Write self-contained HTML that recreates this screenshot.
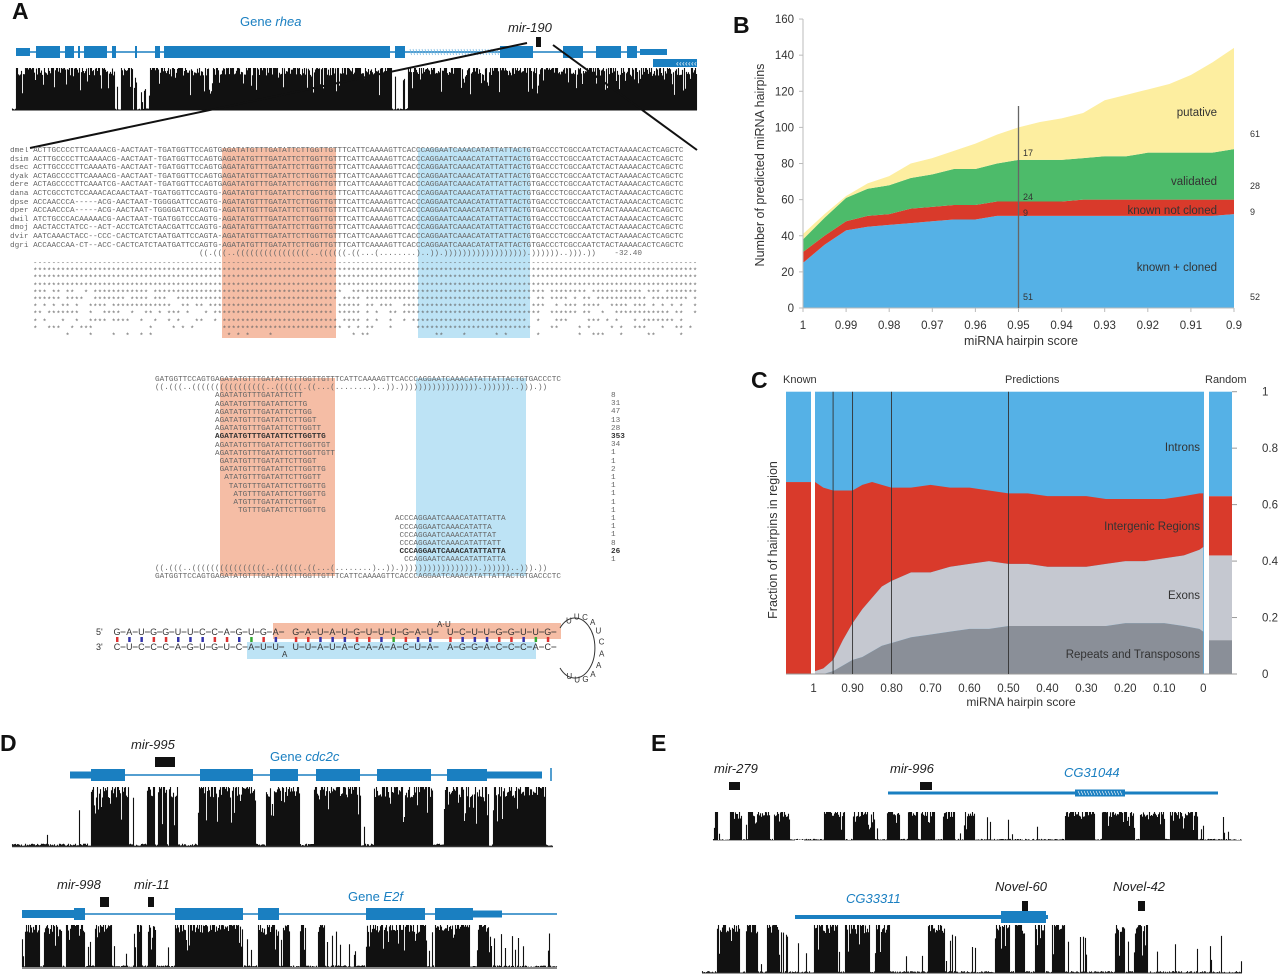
<!DOCTYPE html>
<html><head><meta charset="utf-8">
<style>
body{margin:0;background:#fff;}
#root{position:relative;width:1280px;height:974px;overflow:hidden;background:#fff;font-family:"Liberation Sans",sans-serif;}
.abs{position:absolute;}
.mono{font-family:"Liberation Mono",monospace;font-size:7.7px;line-height:8.6px;color:#666;white-space:pre;}
.plab{font-weight:bold;font-size:23px;color:#111;}
.blue{color:#1a7fc1;}
.it{font-style:italic;}
svg text{font-family:"Liberation Sans",sans-serif;}
</style></head><body>
<div id="root">
<svg id="bg" class="abs" style="left:0;top:0" width="1280" height="974"></svg>

<div class="abs plab" style="left:12px;top:-2px">A</div>
<div class="abs blue" style="left:240px;top:14px;font-size:13px">Gene <span class="it">rhea</span></div>
<div class="abs it" style="left:508px;top:20px;font-size:13px;color:#222">mir-190</div>
<div id="aln" class="abs mono" style="left:10px;top:147px;width:690px;overflow:hidden"></div>
<div id="stars" class="abs mono" style="left:33px;top:262px;width:664px;overflow:hidden;line-height:7.2px"></div>
<div id="reads" class="abs mono" style="left:155px;top:376px;line-height:8.2px"></div>
<div id="counts" class="abs mono" style="left:611px;top:392px;line-height:8.2px"></div>

<div class="abs plab" style="left:733px;top:12px">B</div>
<div class="abs plab" style="left:751px;top:367px">C</div>

<div class="abs plab" style="left:0px;top:730px">D</div>
<div class="abs it" style="left:131px;top:737px;font-size:13px;color:#222">mir-995</div>
<div class="abs blue" style="left:270px;top:749px;font-size:13px">Gene <span class="it">cdc2c</span></div>
<div class="abs it" style="left:57px;top:877px;font-size:13px;color:#222">mir-998</div>
<div class="abs it" style="left:134px;top:877px;font-size:13px;color:#222">mir-11</div>
<div class="abs blue" style="left:348px;top:889px;font-size:13px">Gene <span class="it">E2f</span></div>

<div class="abs plab" style="left:651px;top:730px">E</div>
<div class="abs it" style="left:714px;top:761px;font-size:13px;color:#222">mir-279</div>
<div class="abs it" style="left:890px;top:761px;font-size:13px;color:#222">mir-996</div>
<div class="abs blue it" style="left:1064px;top:765px;font-size:13px">CG31044</div>
<div class="abs blue it" style="left:846px;top:891px;font-size:13px">CG33311</div>
<div class="abs it" style="left:995px;top:879px;font-size:13px;color:#222">Novel-60</div>
<div class="abs it" style="left:1113px;top:879px;font-size:13px;color:#222">Novel-42</div>
</div>

<script>
// ---------- Panel B data ----------
const bScores=[1,0.995,0.99,0.985,0.98,0.975,0.97,0.965,0.96,0.955,0.95,0.945,0.94,0.935,0.93,0.925,0.92,0.915,0.91,0.905,0.9];
const bKnownCloned=[25,35,43,45,46,47,48,49,49,51,51,51,51,51,51,51,51,51,51,51,52];
const bKnownNotCloned=[6,5,5,6,6,8,8,8,8,8,8,8,8,9,9,9,9,9,9,9,8];
const bValidated=[7,10,13,15,16,17,18,20,20,21,23,23,23,23,24,24,26,26,26,26,28];
const bPutative=[3,2,1,3,5,8,9,10,14,16,18,21,23,25,31,34,35,38,43,50,56];
const bYTicks=[0,20,40,60,80,100,120,140,160];
const bXTicks=[1,0.99,0.98,0.97,0.96,0.95,0.94,0.93,0.92,0.91,0.9];

// ---------- Panel C data ----------
const cScores=[1,0.975,0.95,0.925,0.9,0.875,0.85,0.825,0.8,0.75,0.7,0.65,0.6,0.55,0.5,0.45,0.4,0.35,0.3,0.25,0.2,0.15,0.1,0.05,0.01,0];
const cRepeats=[0,0,0.01,0.03,0.05,0.06,0.08,0.1,0.11,0.13,0.14,0.15,0.16,0.16,0.17,0.17,0.17,0.17,0.17,0.17,0.18,0.18,0.18,0.17,0.16,0.15];
const cExons=[0.01,0.02,0.04,0.09,0.13,0.17,0.19,0.21,0.22,0.23,0.22,0.23,0.23,0.24,0.22,0.22,0.21,0.21,0.21,0.22,0.22,0.22,0.23,0.25,0.28,0.30];
const cIntergenic=[0.67,0.64,0.6,0.53,0.47,0.44,0.41,0.36,0.33,0.3,0.31,0.28,0.27,0.25,0.25,0.25,0.25,0.25,0.25,0.23,0.22,0.22,0.21,0.21,0.2,0.19];
const cKnown=[0,0,0.68];
const cRandom=[0.12,0.30,0.21];
const cXTicks=[1,0.9,0.8,0.7,0.6,0.5,0.4,0.3,0.2,0.1,0];
const cXTickLabels=["1","0.90","0.80","0.70","0.60","0.50","0.40","0.30","0.20","0.10","0"];
const cYTicks=[0,0.2,0.4,0.6,0.8,1];
const cDividers=[0.95,0.9,0.8,0.5];

const NS="http://www.w3.org/2000/svg";
const svg=document.getElementById('bg');
function mk(tag,attrs,parent){const e=document.createElementNS(NS,tag);for(const k in attrs)e.setAttribute(k,attrs[k]);(parent||svg).appendChild(e);return e;}
function txt(x,y,s,attrs,parent){const t=mk('text',Object.assign({x:x,y:y},attrs),parent);t.textContent=s;return t;}
function hash(i,s){const x=Math.sin(i*12.9898+s*78.233)*43758.5453;return x-Math.floor(x);}

function track(name,x0,x1,yT,yB,blocks,seed,sparse){
  let d='';
  for(let x=x0;x<x1;x++){
    const inb=blocks.some(b=>x>=b[0]&&x<b[1]);
    const r=hash(x,seed);let h;
    if(inb){h=r<0.13?0.35+0.5*hash(x,seed+1):(r<0.5?1:0.82+0.18*hash(x,seed+2));}
    else{h=r<sparse?0.15+0.7*hash(x,seed+3):0.04*hash(x,seed+4);}
    d+='M'+(x+0.5)+' '+yB+'v'+(-(h*(yB-yT))).toFixed(1);
  }
  const p=mk('path',{d:d,stroke:'#111','stroke-width':1.1,fill:'none'});
  
  
}
function gene(name,y,x0,x1,exons,thick){
  const g=mk('g',{});
  
  
  mk('line',{x1:x0,y1:y,x2:x1,y2:y,stroke:'#1a7fc1','stroke-width':thick||1.5},g);
  exons.forEach(e=>mk('rect',{x:e[0],y:y-(e[2]||6),width:e[1]-e[0],height:2*(e[2]||6),fill:'#1a7fc1'},g));
  return g;
}
function box(name,x,y,w,h){const r=mk('rect',{x:x,y:y,width:w,height:h,fill:'#111'});}

gene('gene-rhea-model',52,16,667,[[16,30,4],[36,60],[65,74],[78,80],[84,107],[112,116],[135,137],[155,160],[164,390],[395,405],[500,520],[508,533],[563,583],[596,621],[627,637],[640,667,3]]);
for(let x=410;x<498;x+=3)mk('line',{x1:x,y1:49,x2:x+1.5,y2:55,stroke:'#6fb4e0','stroke-width':0.7});
mk('rect',{x:653,y:59,width:44,height:8,fill:'#1a7fc1'});
for(let x=676;x<696;x+=3)txt(x,66,'‹',{'font-size':8,fill:'#fff'});
box('mir-190-marker',536,37,5,10);
track('rhea-conservation-track',12,697,68,110,[[16,115],[121,133],[150,392],[408,697]],1,0.3);
mk('line',{x1:12,y1:110,x2:697,y2:110,stroke:'#111','stroke-width':1});
mk('line',{x1:527,y1:43,x2:30,y2:148,stroke:'#111','stroke-width':2});
mk('line',{x1:553,y1:45,x2:697,y2:150,stroke:'#111','stroke-width':2});

mk('rect',{x:222,y:148,width:114,height:190,fill:'#f5bda5'});
mk('rect',{x:418,y:148,width:112,height:190,fill:'#bde3f5'});
mk('rect',{x:220,y:378,width:115,height:198,fill:'#f5bda5'});
mk('rect',{x:416,y:378,width:110,height:198,fill:'#bde3f5'});

const species=['dmel','dsim','dsec','dyak','dere','dana','dpse','dper','dwil','dmoj','dvir','dgri'];
const pre=['ACTTGCCCCTTCAAAACG-AACTAAT-TGATGGTTCCAGTG','ACTTGCCCCTTCAAAACG-AACTAAT-TGATGGTTCCAGTG','ACTTGCCCCTTCAAAATG-AACTAAT-TGATGGTTCCAGTG','ACTAGCCCCTTCAAAACG-AACTAAT-TGATGGTTCCAGTG','ACTAGCCCCTTCAAATCG-AACTAAT-TGATGGTTCCAGTG','ACTCGCCTCTCCAAACACAACTAAT-TGATGGTTCCAGTG','ACCAACCCA-----ACG-AACTAAT-TGGGGATTCCAGTG','ACCAACCCA-----ACG-AACTAAT-TGGGGATTCCAGTG','ATCTGCCCACAAAAACG-AACTAAT-TGATGGTCCCAGTG','AACTACCTATCC--ACT-ACCTCATCTAACGATTCCAGTG','AATCAAACTACC--CCC-CACTCATCTAATGATTCCAGTA','ACCAACCAA-CT--ACC-CACTCATCTAATGATTCCAGTG'];
const mid='AGATATGTTTGATATTCTTGGTTGTTTCATTCAAAAGTTCACCCAGGAATCAAACATATTATTACTGTGACCCTCGCCAATCTACTAAAACACTCAGCTC';
let al='';species.forEach((s,i)=>{al+=s+' '+pre[i].padEnd(41,'-').slice(0,41)+mid+'\n';});
al+='                                         ((.(((..((((((((((((((((..((((((.((...(........)..)).)))))))))))))))))).))))))..))).))    -32.40';
document.getElementById('aln').textContent=al;
let st='';
for(let r=0;r<11;r++){let line='';for(let c=0;c<144;c++){const cons=(c>=41&&c<65)||(c>=83&&c<107);const p=r<4?0:(r-3)*0.11;line+=(cons&&r<10)||hash(c,r+20)>p?'*':' ';}st+=line+'\n';}
document.getElementById('stars').textContent=st;
const seqL='GATGGTTCCAGTGAGATATGTTTGATATTCTTGGTTGTTTCATTCAAAAGTTCACCCAGGAATCAAACATATTATTACTGTGACCCTC';
const str='((.(((..((((((((((((((((..((((((.((...(........)..)).))))))))))))))))).))))))..))).))';
const reads=[[13,'AGATATGTTTGATATTCTT'],[13,'AGATATGTTTGATATTCTTG'],[13,'AGATATGTTTGATATTCTTGG'],[13,'AGATATGTTTGATATTCTTGGT'],[13,'AGATATGTTTGATATTCTTGGTT'],[13,'AGATATGTTTGATATTCTTGGTTG',1],[13,'AGATATGTTTGATATTCTTGGTTGT'],[13,'AGATATGTTTGATATTCTTGGTTGTT'],[14,'GATATGTTTGATATTCTTGGT'],[14,'GATATGTTTGATATTCTTGGTTG'],[15,'ATATGTTTGATATTCTTGGTT'],[16,'TATGTTTGATATTCTTGGTTG'],[17,'ATGTTTGATATTCTTGGTTG'],[17,'ATGTTTGATATTCTTGGT'],[18,'TGTTTGATATTCTTGGTTG'],[52,'ACCCAGGAATCAAACATATTATTA'],[53,'CCCAGGAATCAAACATATTA'],[53,'CCCAGGAATCAAACATATTAT'],[53,'CCCAGGAATCAAACATATTATT'],[53,'CCCAGGAATCAAACATATTATTA',1],[54,'CCAGGAATCAAACATATTATTA']];
const counts=[8,31,47,13,28,353,34,1,1,2,1,1,1,1,1,1,1,1,8,26,1];
let rh=seqL+'\n'+str+'\n';
reads.forEach(r=>{const s=' '.repeat(r[0])+r[1];rh+=r[2]?'<b style="color:#333">'+s+'</b>\n':s+'\n';});
rh+=str+'\n'+seqL;
document.getElementById('reads').innerHTML=rh;
document.getElementById('counts').innerHTML=counts.map(c=>c===353||c===26?'<b style="color:#333">'+c+'</b>':c).join('\n');

mk('rect',{x:273,y:623,width:288,height:16,fill:'#f5bda5'});
mk('rect',{x:247,y:642,width:289,height:17,fill:'#bde3f5'});
const top5='GAUGGUUCCAGUGA GAUAUGUUUGAU UCUUGGUUG';
const bot3='CUCCCAGUGUCAUU UUAUACAAACUA AGGACCCAC';
txt(96,635,"5'",{'font-size':9,fill:'#333'});
txt(96,650,"3'",{'font-size':9,fill:'#333'});
const pcol=['#d33','#33a','#33a','#d33','#d33','#33a','#33a','#33a','#d33','#d33','#33a','#3a3'];
let x=117;
for(let i=0;i<top5.length;i++){
  if(top5[i]===' '){x+=8;continue;}
  txt(x,635,top5[i],{'font-size':9,fill:'#333','text-anchor':'middle'});
  txt(x,650,bot3[i]===' '?'':bot3[i],{'font-size':9,fill:'#333','text-anchor':'middle'});
  mk('rect',{x:x-1,y:637,width:2.5,height:5,fill:pcol[i%pcol.length]});
  mk('line',{x1:x+3.5,y1:632,x2:x+8.5,y2:632,stroke:'#333','stroke-width':0.8});
  mk('line',{x1:x+3.5,y1:647,x2:x+8.5,y2:647,stroke:'#333','stroke-width':0.8});
  x+=12.2;
}
txt(437,627,'A·U',{'font-size':8,fill:'#333'});
txt(282,657,'A',{'font-size':8,fill:'#333'});
mk('path',{d:'M560 628 A20 30 0 1 1 560 668',fill:'none',stroke:'#333','stroke-width':1});
['U','U','C','A','U','C','A','A','A','G','U','U'].forEach((c,i)=>{const a=-2.1+i*0.38;txt(580+22*Math.cos(a),648+32*Math.sin(a)+3,c,{'font-size':8,fill:'#333','text-anchor':'middle'});});

// ---------- Panel B chart ----------
const bx=s=>803+(1-s)/0.1*431;
const by=v=>308-v*1.806;
const gB=mk('g',{});


const layersB=[bKnownCloned,bKnownNotCloned,bValidated,bPutative];
const colB=['#55b1e6','#d93a2b','#4dbb6a','#fdeea0'];
const namesB=['area-known-cloned','area-known-not-cloned','area-validated','area-putative'];
let base=bScores.map(()=>0);
layersB.forEach((L,li)=>{
  const topv=base.map((b,i)=>b+L[i]);
  let d='M'+bScores.map((s,i)=>bx(s)+' '+by(topv[i])).join('L');
  for(let i=bScores.length-1;i>=0;i--)d+='L'+bx(bScores[i])+' '+by(base[i]);
  const p=mk('path',{d:d+'Z',fill:colB[li]},gB);
  
  
  base=topv;
});
mk('line',{x1:803,y1:19,x2:803,y2:308,stroke:'#bbb'},gB);
mk('line',{x1:803,y1:308,x2:1234,y2:308,stroke:'#bbb'},gB);
bYTicks.forEach(v=>{mk('line',{x1:799,y1:by(v),x2:803,y2:by(v),stroke:'#bbb'},gB);const t=txt(794,by(v)+4,String(v),{'font-size':11.5,fill:'#333','text-anchor':'end'},gB);});
bXTicks.forEach(s=>{mk('line',{x1:bx(s),y1:308,x2:bx(s),y2:312,stroke:'#bbb'},gB);const t=txt(bx(s),329,String(s),{'font-size':11.5,fill:'#333','text-anchor':'middle'},gB);});
mk('line',{x1:bx(0.95),y1:106,x2:bx(0.95),y2:308,stroke:'#666','stroke-width':1.3},gB);
let t=txt(1021,345,'miRNA hairpin score',{'font-size':12.5,fill:'#333','text-anchor':'middle'},gB);
t=txt(0,0,'Number of predicted miRNA hairpins',{'font-size':12.5,fill:'#333','text-anchor':'middle',transform:'translate(764,165) rotate(-90)'},gB);
[['putative',116],['validated',185],['known not cloned',214],['known + cloned',271]].forEach(a=>{const t=txt(1217,a[1],a[0],{'font-size':11.5,fill:'#333','text-anchor':'end'},gB);});
[['17',1023,156],['24',1023,200],['9',1023,216],['51',1023,300],['61',1250,137],['28',1250,189],['9',1250,215],['52',1250,300]].forEach(a=>txt(a[1],a[2],a[0],{'font-size':9,fill:'#333'},gB));

// ---------- Panel C chart ----------
const cx=s=>1203.3-389.7*s;
const cy=v=>391.7+(1-v)*282.3;
const gC=mk('g',{});


const colC=['#8a8f98','#c5c8d0','#d93a2b','#55b1e6'];
function stackBar(x0,x1,vals,nm){
  let b=0;
  const g=mk('g',{},gC);
  
  
  vals.concat([1-vals.reduce((a,c)=>a+c,0)]).forEach((v,i)=>{mk('rect',{x:x0,y:cy(b+v),width:x1-x0,height:cy(b)-cy(b+v),fill:colC[i]},g);b+=v;});
}
stackBar(786,811,cKnown,'known-bar');
stackBar(1209,1232,cRandom,'random-bar');
mk('rect',{x:815,y:cy(1),width:389,height:cy(0)-cy(1),fill:'#55b1e6'},gC);
const layersC=[cRepeats,cExons,cIntergenic];
const namesC=['area-repeats','area-exons','area-intergenic'];
let baseC=cScores.map(()=>0);
layersC.forEach((L,li)=>{
  const topv=baseC.map((b,i)=>b+L[i]);
  let d='M'+cScores.map((s,i)=>Math.max(815,cx(s))+' '+cy(topv[i])).join('L');
  for(let i=cScores.length-1;i>=0;i--)d+='L'+Math.max(815,cx(cScores[i]))+' '+cy(baseC[i]);
  const p=mk('path',{d:d+'Z',fill:colC[li]},gC);
  
  
  baseC=topv;
});
mk('line',{x1:786,y1:674,x2:1232,y2:674,stroke:'#999'},gC);
cDividers.forEach(s=>mk('line',{x1:cx(s),y1:cy(1),x2:cx(s),y2:674,stroke:'#333','stroke-width':0.9},gC));
cYTicks.forEach(v=>{mk('line',{x1:1232,y1:cy(v),x2:1237,y2:cy(v),stroke:'#999'},gC);const t=txt(1262,cy(v)+4,String(v),{'font-size':11.5,fill:'#333','text-anchor':'start'},gC);});
cXTicks.forEach((s,i)=>{const t=txt(cx(s),692,cXTickLabels[i],{'font-size':11.5,fill:'#333','text-anchor':'middle'},gC);});
[[783,'Known'],[1005,'Predictions'],[1205,'Random']].forEach(a=>{const t=txt(a[0],383,a[1],{'font-size':11,fill:'#333'},gC);});
t=txt(1021,706,'miRNA hairpin score',{'font-size':12,fill:'#333','text-anchor':'middle'},gC);
t=txt(0,0,'Fraction of hairpins in region',{'font-size':12.5,fill:'#333','text-anchor':'middle',transform:'translate(777,540) rotate(-90)'},gC);
[['Introns',451],['Intergenic Regions',530],['Exons',599],['Repeats and Transposons',658]].forEach(a=>{const t=txt(1200,a[1],a[0],{'font-size':11.5,fill:'#333','text-anchor':'end'},gC);});

// ---------- Panel D ----------
box('mir-995-marker',155,757,20,10);
gene('gene-cdc2c-model',775,70,540,[[70,91,3.5],[91,125],[200,253],[270,298],[316,360],[377,431],[447,487],[487,542,3.5]]);
mk('line',{x1:551,y1:768,x2:551,y2:781,stroke:'#1a7fc1','stroke-width':1.5});
track('cdc2c-conservation-track',12,552,787,846,[[91,129],[147,155],[158,167],[169,178],[199,256],[266,300],[314,361],[374,433],[444,489],[493,546]],7,0.02);
mk('line',{x1:12,y1:846.5,x2:553,y2:846.5,stroke:'#333','stroke-width':1.5});
box('mir-998-marker',100,897,9,10);
box('mir-11-marker',148,897,6,10);
gene('gene-e2f-model',914,22,557,[[22,74,4],[74,85],[175,243],[258,279],[366,425],[435,473],[473,502,3.5]]);
track('e2f-conservation-track',22,557,925,967,[[25,40],[44,62],[66,85],[95,112],[137,142],[148,156],[175,243],[258,279],[283,290],[300,306],[318,325],[366,426],[435,470],[478,490]],11,0.12);
mk('line',{x1:22,y1:968,x2:557,y2:968,stroke:'#888','stroke-width':2});

// ---------- Panel E ----------
box('mir-279-marker',729,782,11,8);
box('mir-996-marker',920,782,12,8);
gene('gene-cg31044-model',793,888,1218,[[1075,1125,3.5]],3);
for(let x=1078;x<1122;x+=3)mk('line',{x1:x,y1:791,x2:x+2,y2:795,stroke:'#fff','stroke-width':0.6});
track('cg31044-conservation-track',713,1242,812,840,[[714,718],[730,742],[748,770],[774,790],[824,845],[853,875],[887,900],[908,918],[921,935],[943,955],[965,975],[1065,1095],[1102,1135],[1140,1165],[1170,1198]],3,0.07);
mk('line',{x1:713,y1:840.5,x2:795,y2:840.5,stroke:'#aaa'});
mk('line',{x1:804,y1:840.5,x2:1242,y2:840.5,stroke:'#aaa'});
box('novel-60-marker',1022,901,6,10);
box('novel-42-marker',1138,901,7,10);
gene('gene-cg33311-model',917,795,1048,[[1001,1046,6]],4);
track('cg33311-conservation-track',702,1242,925,973,[[717,740],[746,758],[767,780],[814,838],[845,870],[876,890],[928,945],[995,1010],[1015,1025],[1035,1045],[1052,1065],[1115,1125],[1135,1148]],5,0.12);
mk('line',{x1:702,y1:973,x2:1242,y2:973,stroke:'#333','stroke-width':1});
</script>
</body></html>
